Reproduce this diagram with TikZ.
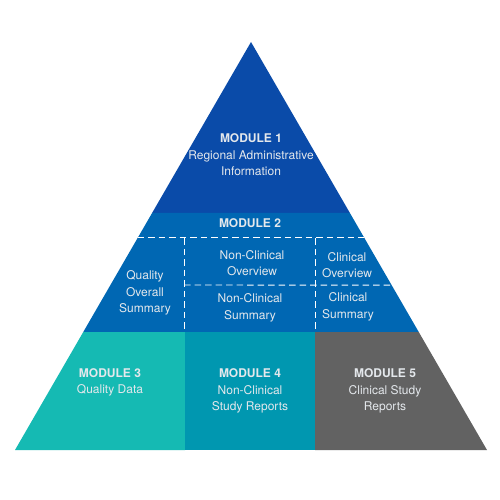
\documentclass[tikz,border=0pt]{standalone}
\usepackage{fontspec}
\setmainfont{TeX Gyre Heros}
\usetikzlibrary{calc}
\definecolor{modone}{HTML}{0A4BA9}
\definecolor{modtwo}{HTML}{0067B3}
\definecolor{modthree}{HTML}{15BAB3}
\definecolor{modfour}{HTML}{0097B0}
\definecolor{modfive}{HTML}{626262}
\definecolor{txtgray}{HTML}{E4E8EC}
\tikzset{
  modtext/.style={text=txtgray, align=center, inner sep=0pt, font=\fontsize{12}{16.5}\selectfont},
  divline/.style={draw=white, dashed, dash pattern=on 6.5pt off 4pt, line width=0.9pt}
}

\begin{document}
\begin{tikzpicture}[x=1pt,y=-1pt]
\useasboundingbox (0,0) rectangle (500,500);

% corners of the pyramid
\coordinate (apex) at (251,42);
\coordinate (bl) at (15,450);
\coordinate (br) at (487,450);

% levels
\coordinate (oneL) at ($(apex)!0.419!(bl)$);
\coordinate (oneR) at ($(apex)!0.419!(br)$);
\coordinate (headL) at ($(apex)!0.480!(bl)$);
\coordinate (headR) at ($(apex)!0.480!(br)$);
\coordinate (midR) at ($(apex)!0.596!(br)$);
\coordinate (twoL) at ($(apex)!0.711!(bl)$);
\coordinate (twoR) at ($(apex)!0.711!(br)$);


\fill[modone] (apex) -- (oneR) -- (oneL) -- cycle;
\fill[modtwo] (oneL) -- (oneR) -- (twoR) -- (twoL) -- cycle;
\fill[modthree] (twoL) -- (185,332) -- (185,450) -- (bl) -- cycle;
\fill[modfour] (185,332) rectangle (315,450);
\fill[modfive] (315,332) -- (twoR) -- (br) -- (315,450) -- cycle;


\draw[divline] (headL) -- (headR);
\draw[divline] (184,285) -- (midR);
\draw[divline] (184,238) -- (184,332);
\draw[divline] (315,238) -- (315,332);


\node[modtext] (one) at (251,155) {\textbf{MODULE 1}\\Regional Administrative\\Information};
\node[modtext] (two) at (250,223) {\textbf{MODULE 2}};

\node[modtext] (qos) at (145,293) {Quality\\Overall\\Summary};
\node[modtext] (nco) at (252,263) {Non-Clinical\\Overview};
\node[modtext] (co) at (347,265) {Clinical\\Overview};
\node[modtext] (ncs) at (250,308) {Non-Clinical\\Summary};
\node[modtext] (cs) at (348,307) {Clinical\\Summary};


\node[modtext] (three) at (110,382.5) {\textbf{MODULE 3}\\Quality Data};
\node[modtext] (four) at (250,391) {\textbf{MODULE 4}\\Non-Clinical\\Study Reports};
\node[modtext] (five) at (385,391) {\textbf{MODULE 5}\\Clinical Study\\Reports};

\end{tikzpicture}
\end{document}
